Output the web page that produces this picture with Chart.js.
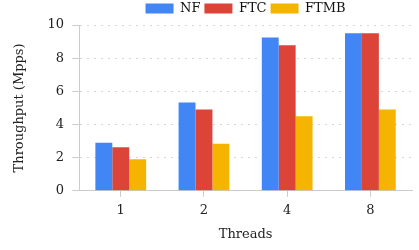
<!DOCTYPE html>
<html>
<head>
<meta charset="utf-8">
<script src="https://cdn.jsdelivr.net/npm/chart.js@4"></script>
<style>
  html, body { margin: 0; padding: 0; background: #fff; }
  #wrap { width: 419px; height: 250px; }
</style>
</head>
<body>
<div id="wrap"><canvas id="throughput"></canvas></div>
<script>
var threads = ['1', '2', '4', '8'];
var nfData = [2.9, 5.33, 9.25, 9.5];
var ftcData = [2.62, 4.91, 8.78, 9.5];
var ftmbData = [1.9, 2.84, 4.5, 4.91];
var yTicks = [0, 2, 4, 6, 8, 10];

Chart.defaults.font.family = '"DejaVu Serif", serif';
Chart.defaults.font.size = 13;
Chart.defaults.color = '#222';

// center the legend over the plot area and draw the y axis line solid
var layoutFix = {
    id: 'layoutFix',
    afterLayout: function(chart){
        if (chart.legend) {
            chart.legend.left = chart.chartArea.left;
            chart.legend.right = chart.chartArea.right;
            chart.legend.width = chart.chartArea.right - chart.chartArea.left;
        }
    },
    afterDraw: function(chart){
        var ctx = chart.ctx, a = chart.chartArea;
        ctx.save();
        ctx.strokeStyle = '#ccc';
        ctx.lineWidth = 1;
        ctx.setLineDash([]);
        ctx.beginPath();
        ctx.moveTo(Math.round(a.left) + 0.5, a.top);
        ctx.lineTo(Math.round(a.left) + 0.5, a.bottom);
        ctx.stroke();
        ctx.restore();
    }
};

new Chart(document.getElementById('throughput'), {
    type: 'bar',
    data: {
        labels: threads,
        datasets: [
            { label: 'NF', data: nfData, backgroundColor: '#4285F4' },
            { label: 'FTC', data: ftcData, backgroundColor: '#DB4437' },
            { label: 'FTMB', data: ftmbData, backgroundColor: '#F4B400' }
        ]
    },
    plugins: [layoutFix],
    options: {
        responsive: true,
        maintainAspectRatio: false,
        animation: false,
        layout: { padding: { left: 12, right: 7, top: -2, bottom: 8 } },
        datasets: { bar: { barPercentage: 1.0, categoryPercentage: 0.61 } },
        plugins: {
            legend: {
                position: 'top',
                labels: { boxWidth: 28, boxHeight: 10, padding: 4, color: '#111' }
            },
            tooltip: { enabled: false }
        },
        scales: {
            x: {
                grid: { offset: false, drawOnChartArea: false, drawTicks: true, tickLength: 6, color: '#ccc' },
                border: { color: '#ccc', width: 1 },
                ticks: { padding: 6 },
                title: { display: true, text: 'Threads', padding: { top: 2, bottom: 0 } }
            },
            y: {
                min: 0,
                max: 10,
                afterBuildTicks: function(axis){
                    axis.ticks = yTicks.map(function(v){ return { value: v }; });
                },
                grid: { color: '#d6d6d6', tickLength: 7, tickColor: '#ccc', tickBorderDash: [] },
                border: { color: '#ccc', dash: [2, 5] },
                ticks: { padding: 8 },
                title: { display: true, text: 'Throughput (Mpps)', padding: { top: 0, bottom: 12 } }
            }
        }
    }
});
</script>
</body>
</html>
